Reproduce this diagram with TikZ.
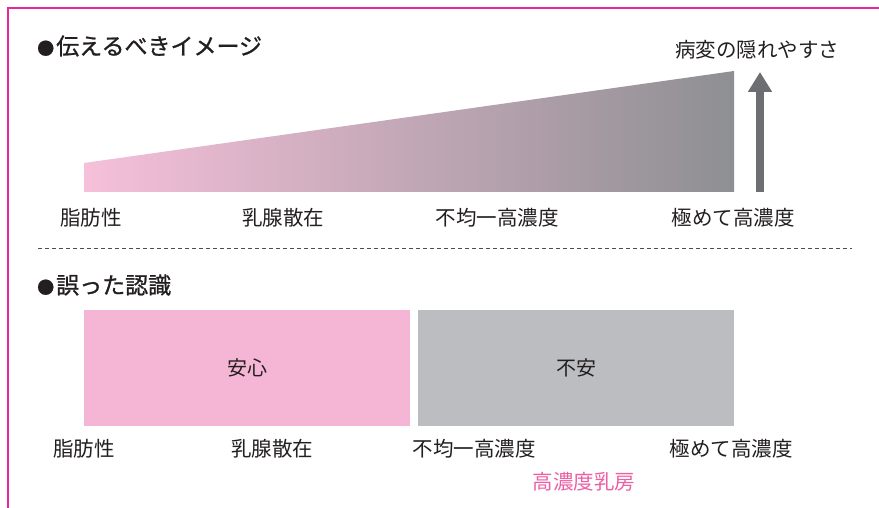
\documentclass[tikz,border=0pt]{standalone}
\usepackage{fontspec}
\setmainfont{Noto Sans CJK JP}
\newfontfamily\jp{Noto Sans CJK JP}
\newfontfamily\jpm{Noto Sans CJK JP}[FakeBold=1.0]
\usetikzlibrary{arrows.meta}
\definecolor{frame}{HTML}{E8279A}
\definecolor{txt}{HTML}{231F20}
\definecolor{pinkbox}{HTML}{F5B6D5}
\definecolor{graybox}{HTML}{BCBDC1}
\definecolor{gradL}{HTML}{F6C0DA}
\definecolor{gradR}{HTML}{8E8F93}
\definecolor{arrowc}{HTML}{6D6E71}
\definecolor{hipink}{HTML}{EC5FA4}
\newcommand{\bul}{{\fontsize{17}{17}\selectfont ●}\hspace{2pt}}
\tikzset{
  lbl/.style={font=\jp\fontsize{20.5}{20.5}\selectfont, text=txt, inner sep=0pt},
  ttl/.style={font=\jpm\fontsize{23}{23}\selectfont, text=txt, inner sep=0pt, anchor=west},
  boxtxt/.style={font=\jp\fontsize{20}{20}\selectfont, text=txt, inner sep=0pt},
}
\begin{document}
\begin{tikzpicture}[x=1pt,y=-1pt]
\useasboundingbox (0,0) rectangle (879,508);
% frame
\draw[frame, line width=1.5pt] (8,508) -- (8,8) -- (879,8);
% titles
\node[ttl] (t1) at (37,46) {\bul 伝えるべきイメージ};
\node[ttl] (t2) at (37,285) {\bul 誤った認識};
% gradient trapezoid
\shade[left color=gradL, right color=gradR] (84,192) -- (84,163) -- (734,71) -- (734,192) -- cycle;
% arrow
\coordinate (abot) at (760,192);
\coordinate (atop) at (760,72);
\draw[arrowc, line width=7.5pt, -{Triangle[width=23pt,length=20pt]}] (abot) -- (atop);
\node[lbl] (hide) at (757,50) {病変の隠れやすさ};
% upper labels
\node[lbl] (u1) at (91,218) {脂肪性};
\node[lbl] (u2) at (283,218) {乳腺散在};
\node[lbl] (u3) at (497,218) {不均一高濃度};
\node[lbl] (u4) at (733,218) {極めて高濃度};
% dashed separator
\coordinate (d1) at (38,248);
\coordinate (d2) at (852,248);
\draw[txt!80, line width=0.8pt, dash pattern=on 4pt off 3pt] (d1) -- (d2);
% boxes
\node[fill=pinkbox, minimum width=326pt, minimum height=116pt, anchor=north west, inner sep=0pt] (anshin) at (84,310) {};
\node[boxtxt] at (anshin.center) {安心};
\node[fill=graybox, minimum width=316pt, minimum height=116pt, anchor=north west, inner sep=0pt] (fuan) at (418,310) {};
\node[boxtxt] at (fuan.center) {不安};
% lower labels
\node[lbl] (b1) at (84,449) {脂肪性};
\node[lbl] (b2) at (272,449) {乳腺散在};
\node[lbl] (b3) at (474,449) {不均一高濃度};
\node[lbl] (b4) at (731,449) {極めて高濃度};
\node[lbl, text=hipink] (dense) at (584,482) {高濃度乳房};
\end{tikzpicture}
\end{document}
